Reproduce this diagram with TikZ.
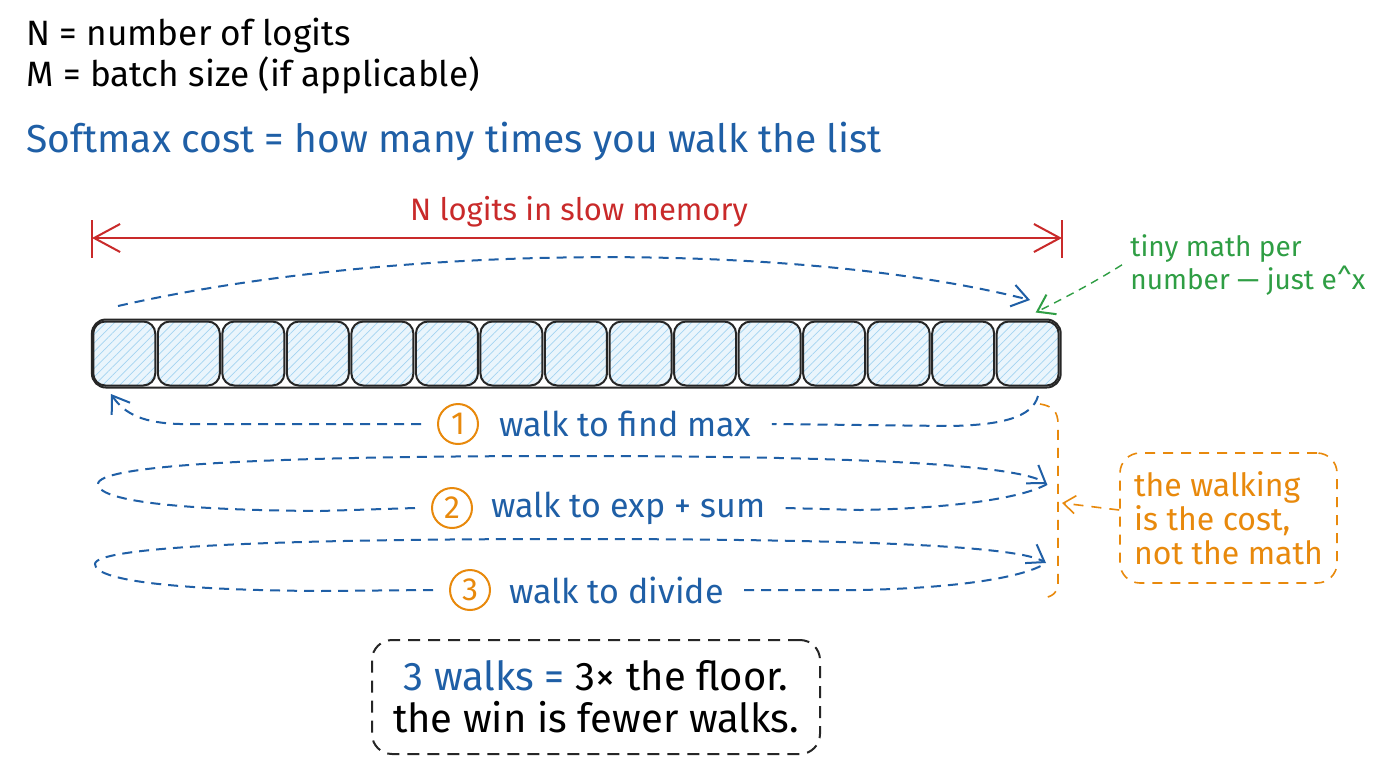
\documentclass[tikz,border=0pt]{standalone}
\usepackage{fontspec}
\setmainfont{Fira Sans}
\usepackage{tikz}
\usetikzlibrary{arrows.meta, positioning, fit, patterns.meta}

\definecolor{inkblue}{HTML}{1F5FA6}
\definecolor{inkred}{HTML}{C92A2A}
\definecolor{inkorange}{HTML}{E8890C}
\definecolor{inkgreen}{HTML}{2F9E44}
\definecolor{cellblue}{HTML}{8CC8EE}

\tikzset{
    deftext/.style={anchor=west, inner sep=0pt, font=\fontsize{17.6}{21}\selectfont},
    headtext/.style={anchor=west, inner sep=0pt, text=inkblue, font=\fontsize{19.5}{23}\selectfont},
    cellbox/.style={rectangle, rounded corners=6pt, draw=black!85, line width=1pt, minimum width=31pt, minimum height=32pt, inner sep=0pt, preaction={fill=cellblue!18}, pattern={Lines[angle=45, distance=3pt, line width=0.35pt]}, pattern color=cellblue!80},
    rowbox/.style={rectangle, rounded corners=7pt, draw=black!85, line width=1pt, inner sep=0.5pt},
    barbtip/.style={-{Straight Barb[length=8pt, width=11pt, line width=1pt]}},
    walk/.style={inkblue, line width=1pt, dash pattern=on 5pt off 3.5pt},
    dimline/.style={inkred, line width=1pt},
    numcirc/.style={circle, draw=inkorange, line width=1pt, text=inkorange, minimum size=20pt, inner sep=0pt, font=\fontsize{16}{16}\selectfont},
    walklabel/.style={text=inkblue, inner sep=0pt, font=\fontsize{17}{20}\selectfont},
    greennote/.style={anchor=north west, align=left, inner sep=0pt, text=inkgreen, font=\fontsize{14}{16.5}\selectfont},
    greenline/.style={inkgreen, line width=0.7pt, dash pattern=on 4pt off 3pt},
    orangeline/.style={inkorange, line width=0.8pt, dash pattern=on 5pt off 4pt},
    notebox/.style={rectangle, rounded corners=10pt, draw=inkorange, line width=0.8pt, dash pattern=on 5pt off 4pt, text=inkorange, align=left, minimum width=108.5pt, minimum height=65pt, font=\fontsize{16}{17}\selectfont},
    sumbox/.style={rectangle, rounded corners=10pt, draw=black!85, line width=1pt, dash pattern=on 6pt off 4pt, align=center, minimum width=224pt, minimum height=57pt, font=\fontsize{20}{21}\selectfont}
}

\begin{document}
\begin{tikzpicture}[x=0.5pt, y=-0.5pt]
    \fill[white] (0,0) rectangle (1376,768);
    \useasboundingbox (0,0) rectangle (1376,768);

    % legend and title
    \node[deftext] (defN) at (26,36) {N = number of logits};
    \node[deftext, below=19.5pt of defN.west, anchor=west] (defM) {M = batch size (if applicable)};
    \node[headtext] (head) at (26,141) {Softmax cost = how many times you walk the list};

    % the list of logits
    \foreach \i in {1,...,15} {
        \node[cellbox] (c\i) at ({92+64.53*(\i-0.5)}, 353.5) {};
    }
    \node[rowbox, fit=(c1)(c15)] (row) {};

    % size marker
    \coordinate (dimL) at (92,238);
    \coordinate (dimR) at (1062,238);
    \draw[dimline] ([yshift=9pt]dimL) -- ([yshift=-10pt]dimL);
    \draw[dimline] ([yshift=9pt]dimR) -- ([yshift=-10pt]dimR);
    \draw[dimline, {Straight Barb[length=13pt, width=14pt, line width=1pt]}-{Straight Barb[length=13pt, width=14pt, line width=1pt]}] (dimL) -- (dimR);
    \node[text=inkred, inner sep=0pt, font=\fontsize{15.5}{18}\selectfont] (dimlabel) at (579,212) {N logits in slow memory};

    % pass over the list
    \coordinate (arcL) at (118,306);
    \coordinate (arcR) at (1030,300);
    \draw[walk, barbtip] (arcL) .. controls (400,242) and (800,242) .. (arcR);

    % green remark
    \node[greennote] (tiny) at (1130,234) {tiny math per\\number --- just e\textasciicircum x};
    \draw[greenline, barbtip] ([xshift=-4pt]tiny.west) .. controls (1090,285) and (1060,300) .. ([xshift=-12pt, yshift=4pt]c15.north east);

    % walk 1
    \node[numcirc] (num1) at (458,424) {1};
    \node[walklabel, right=10pt of num1] (lbl1) {walk to find max};
    \coordinate (w1s) at (1038,396);
    \coordinate (w1e) at (111,394);
    \draw[walk] (w1s) .. controls (1032,418) and (1000,425) .. (950,426) -- ([xshift=10pt]lbl1.east);
    \draw[walk, barbtip] ([xshift=-8pt]num1.west) -- (180,424) .. controls (145,423) and (125,415) .. (w1e);

    % walk 2
    \node[numcirc] (num2) at (452,508) {2};
    \node[walklabel, right=9pt of num2] (lbl2) {walk to exp + sum};
    \coordinate (w2r) at (1047,484);
    \draw[walk, barbtip] ([xshift=-8pt]num2.west) -- (320,511) .. controls (170,510) and (98,500) .. (98,484) .. controls (98,466) and (250,456) .. (570,456) .. controls (880,456) and (1020,466) .. (w2r);
    \draw[walk] ([xshift=10pt]lbl2.east) -- (860,510) .. controls (960,508) and (1025,497) .. (w2r);

    % walk 3
    \node[numcirc] (num3) at (470,590) {3};
    \node[walklabel, right=9pt of num3] (lbl3) {walk to divide};
    \coordinate (w3r) at (1046,563);
    \draw[walk, barbtip] ([xshift=-8pt]num3.west) -- (320,591) .. controls (170,590) and (95,580) .. (95,564) .. controls (95,548) and (250,539) .. (570,539) .. controls (880,539) and (1020,547) .. (w3r);
    \draw[walk] ([xshift=10pt]lbl3.east) -- (860,590) .. controls (960,588) and (1025,577) .. (w3r);

    % bracket and orange remark
    \coordinate (brtop) at (1040,404);
    \coordinate (brbot) at (1043,598);
    \coordinate (brmid) at (1062,503);
    \draw[orangeline] (brtop) .. controls (1053,406) and (1058,412) .. (1058,424) -- (1058,585) .. controls (1058,592) and (1052,597) .. (brbot);
    \node[notebox] (note) at (1228.5,518) {the walking\\is the cost,\\not the math};
    \draw[orangeline, -{Straight Barb[length=6pt, width=9pt, line width=0.8pt]}] ([yshift=4pt]note.west) -- (brmid);

    % summary
    \node[sumbox] (sum) at (596,697) {\textcolor{inkblue}{3 walks =} 3× the floor.\\the win is fewer walks.};
\end{tikzpicture}
\end{document}
